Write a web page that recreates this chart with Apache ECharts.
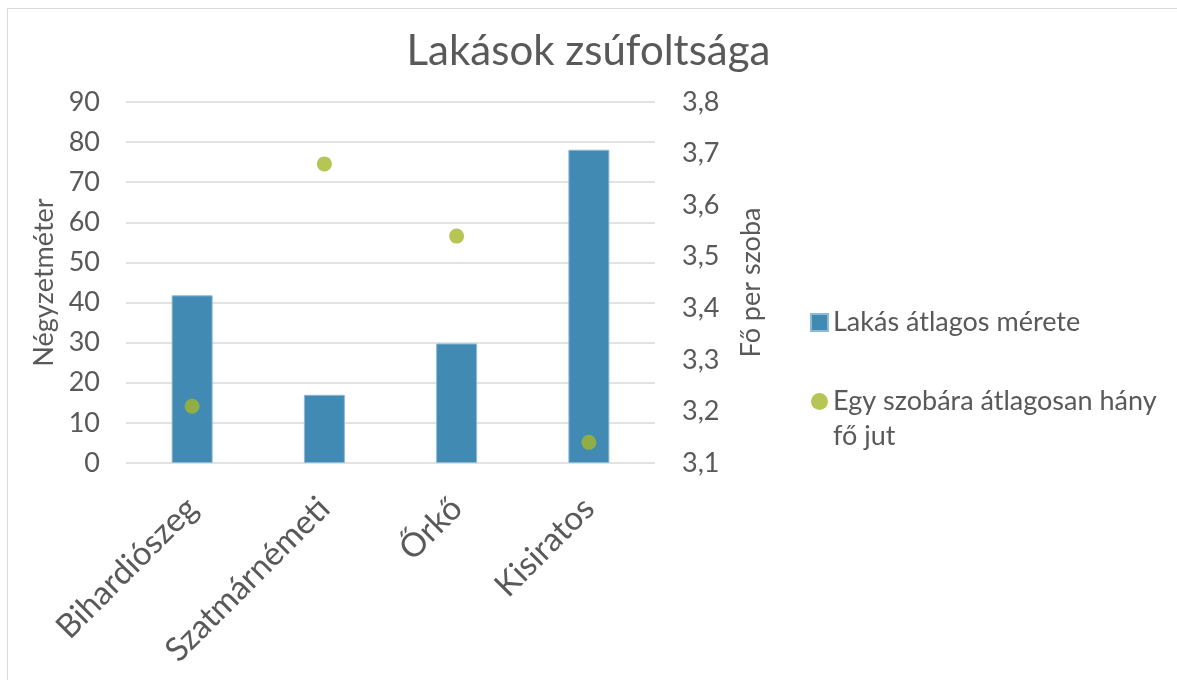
<!DOCTYPE html>
<html>
<head>
<meta charset="utf-8">
<script src="https://cdn.jsdelivr.net/npm/echarts@6/dist/echarts.min.js"></script>
<style>
html, body { margin: 0; padding: 0; background: #fff; }
#frame { position: absolute; left: 7px; top: 8px; width: 1200px; height: 700px; border: 1px solid #d9d9d9; box-sizing: border-box; }
#chart { position: absolute; left: 0; top: 0; width: 1177px; height: 680px; }
</style>
</head>
<body>
<div id="frame"></div>
<div id="chart"></div>
<script>
var cities = ['Bihardiószeg', 'Szatmárnémeti', 'Őrkő', 'Kisiratos'];
var lakasMeret = [41.8, 17, 29.8, 78.1]; // négyzetméter
var foPerSzoba = [3.21, 3.68, 3.54, 3.14];
var leftTicks = [0, 90, 10]; // min, max, lépés
var rightTicks = [3.1, 3.8, 0.1];

var txt = '#595959';
var fnt = 'Lato, "Open Sans", sans-serif';

var myChart = echarts.init(document.getElementById('chart'));

var option = {
	textStyle: { fontFamily: fnt },
	title: {
		text: 'Lakások zsúfoltsága',
		left: 'center',
		top: 25,
		textStyle: { color: txt, fontSize: 42, fontWeight: 'normal', fontFamily: fnt }
	},
	legend: {
		orient: 'vertical',
		left: 805,
		top: 300,
		itemGap: 9,
		itemWidth: 17,
		itemHeight: 17,
		data: [
			{ name: 'Lakás átlagos mérete', icon: 'rect' },
			{ name: 'Egy szobára átlagosan hány fő jut', icon: 'circle', itemStyle: { borderWidth: 0 } }
		],
		formatter: function (name) {
			if (name == 'Egy szobára átlagosan hány fő jut') {
				return '\nEgy szobára átlagosan hány\nfő jut'; //első sor a jel mellé kerüljön
			}
			return name;
		},
		textStyle: { color: txt, fontSize: 27, lineHeight: 35, fontFamily: fnt }
	},
	grid: { left: 126, right: 522, top: 102, bottom: 217 },
	xAxis: {
		type: 'category',
		data: cities,
		axisLine: { show: false },
		axisTick: { show: false },
		axisLabel: { rotate: 45, color: txt, fontSize: 33, margin: 40, interval: 0, fontFamily: fnt }
	},
	yAxis: [{
		type: 'value',
		min: leftTicks[0],
		max: leftTicks[1],
		interval: leftTicks[2],
		name: 'Négyzetméter',
		nameLocation: 'middle',
		nameRotate: 90,
		nameGap: 68,
		nameTextStyle: { color: txt, fontSize: 27, fontFamily: fnt },
		axisLine: { show: false },
		axisTick: { show: false },
		axisLabel: { color: txt, fontSize: 27, margin: 26, fontFamily: fnt },
		splitLine: { lineStyle: { color: '#d9d9d9', width: 1.5 } }
	}, {
		type: 'value',
		min: rightTicks[0],
		max: rightTicks[1],
		interval: rightTicks[2],
		position: 'right',
		name: 'Fő per szoba',
		nameLocation: 'middle',
		nameRotate: 90,
		nameGap: 83,
		nameTextStyle: { color: txt, fontSize: 27, fontFamily: fnt },
		axisLine: { show: false },
		axisTick: { show: false },
		axisLabel: {
			color: txt, fontSize: 27, margin: 27, fontFamily: fnt,
			formatter: function (v) { return v.toFixed(1).replace('.', ','); }
		},
		splitLine: { show: false }
	}],
	series: [{
		name: 'Lakás átlagos mérete',
		type: 'bar',
		yAxisIndex: 0,
		barWidth: 41,
		itemStyle: { color: '#418ab3', borderColor: '#8dbad6', borderWidth: 1 },
		data: lakasMeret
	}, {
		name: 'Egy szobára átlagosan hány fő jut',
		type: 'scatter',
		yAxisIndex: 1,
		symbol: 'circle',
		symbolSize: 15,
		itemStyle: { color: '#a5b72a' },
		data: foPerSzoba
	}]
};

myChart.setOption(option);
</script>
</body>
</html>
